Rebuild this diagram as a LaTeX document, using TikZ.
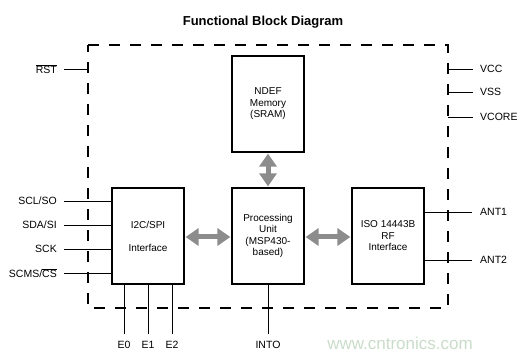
\documentclass[tikz,border=0pt]{standalone}
\usepackage{fontspec}
\setmainfont{Liberation Sans}
\usetikzlibrary{arrows.meta}
\definecolor{arrgray}{HTML}{8C8C8C}
\definecolor{wmark}{HTML}{C9DCC9}
\tikzset{
  blk/.style={draw, line width=1.2pt, minimum width=72pt, minimum height=96pt, inner sep=0pt, align=center, font=\fontsize{10}{11.5}\selectfont},
  pin/.style={line width=0.8pt},
  lbl/.style={font=\fontsize{10.5}{12}\selectfont, inner sep=0pt},
  fat/.style={draw=arrgray, line width=5pt, {Triangle[length=13pt,width=17pt]}-{Triangle[length=13pt,width=17pt]}, shorten <=1pt, shorten >=1pt},
  frame/.style={line width=1.8pt, dash pattern=on 11pt off 10pt}
}
\newcommand{\ovl}[1]{$\overline{\hbox{#1}}$}
\begin{document}
\begin{tikzpicture}[x=1pt,y=-1pt]
\useasboundingbox (0,0) rectangle (522,358);
\node[font=\fontsize{13}{15}\selectfont\bfseries] (title) at (263,22) {Functional Block Diagram};
% dashed frame
\draw[frame] (88,45) -- (448,45) -- (448,308) -- (88,308) -- cycle;
% blocks
\node[blk] (ndef) at (268,104) {NDEF\\Memory\\(SRAM)};
\node[blk] (proc) at (268,236) {Processing\\Unit\\(MSP430-\\based)};
\node[blk, font=\fontsize{10}{23}\selectfont] (i2c) at (148,236) {I2C/SPI\\Interface};
\node[blk] (iso) at (388,236) {ISO 14443B\\RF\\Interface};
% arrows
\draw[fat] (ndef.south) -- (proc.north);
\draw[fat] (i2c.east |- 0,237) -- (proc.west |- 0,237);
\draw[fat] (proc.east |- 0,237) -- (iso.west |- 0,237);
% left pins
\node[lbl, anchor=east] (rst) at (57,69) {\ovl{RST}};
\coordinate (rstF) at (88,69);
\draw[pin] (64,69) -- (rstF);
\node[lbl, anchor=east] (scl) at (57,201) {SCL/SO};
\node[lbl, anchor=east] (sda) at (57,225) {SDA/SI};
\node[lbl, anchor=east] (sck) at (57,249) {SCK};
\node[lbl, anchor=east] (scms) at (57,273) {SCMS/\ovl{CS}};
\foreach \n/\y in {scl/201, sda/225, sck/249, scms/273}
  \draw[pin] (64,\y) -- (i2c.west |- 0,\y);
% right power pins
\node[lbl, anchor=west] (vcc) at (480,69) {VCC};
\node[lbl, anchor=west] (vss) at (480,92) {VSS};
\node[lbl, anchor=west] (vcore) at (480,117) {VCORE};
\foreach \y in {69,92,117}
  \draw[pin] (448,\y) -- (473,\y);
% antenna
\node[lbl, anchor=west] (ant1) at (480,212) {ANT1};
\node[lbl, anchor=west] (ant2) at (480,260) {ANT2};
\draw[pin] (iso.east |- 0,212) -- (472,212);
\draw[pin] (iso.east |- 0,260) -- (472,260);
% bottom pins
\node[lbl] (e0) at (124,345) {E0};
\node[lbl] (e1) at (148,345) {E1};
\node[lbl] (e2) at (172,345) {E2};
\node[lbl] (into) at (268,345) {INTO};
\foreach \x in {124,148,172}
  \draw[pin] (i2c.south -| \x,0) -- (\x,334);
\draw[pin] (proc.south) -- (268,334);
% watermark
\node[font=\fontsize{17}{20}\selectfont, text=wmark] (wm) at (400,343) {www.cntronics.com};
\end{tikzpicture}
\end{document}
